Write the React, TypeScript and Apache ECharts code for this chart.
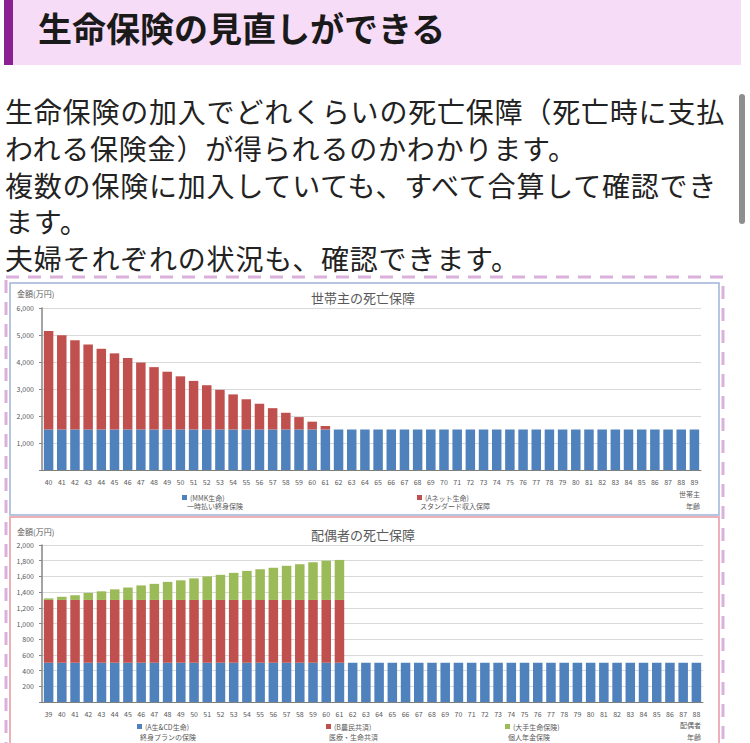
import React, { useEffect, useRef } from "react";
import * as echarts from "echarts";

const ages1 = ["40","41","42","43","44","45","46","47","48","49","50","51","52","53","54","55","56","57","58","59","60","61","62","63","64","65","66","67","68","69","70","71","72","73","74","75","76","77","78","79","80","81","82","83","84","85","86","87","88","89"];
const mmk = [1500,1500,1500,1500,1500,1500,1500,1500,1500,1500,1500,1500,1500,1500,1500,1500,1500,1500,1500,1500,1500,1500,1500,1500,1500,1500,1500,1500,1500,1500,1500,1500,1500,1500,1500,1500,1500,1500,1500,1500,1500,1500,1500,1500,1500,1500,1500,1500,1500,1500];
const aNet = [3650,3490,3310,3150,2990,2820,2650,2480,2310,2140,1970,1800,1640,1470,1300,1120,950,790,620,460,290,130,null,null,null,null,null,null,null,null,null,null,null,null,null,null,null,null,null,null,null,null,null,null,null,null,null,null,null,null];

const ages2 = ["39","40","41","42","43","44","45","46","47","48","49","50","51","52","53","54","55","56","57","58","59","60","61","62","63","64","65","66","67","68","69","70","71","72","73","74","75","76","77","78","79","80","81","82","83","84","85","86","87","88"];
const acd = [500,500,500,500,500,500,500,500,500,500,500,500,500,500,500,500,500,500,500,500,500,500,500,500,500,500,500,500,500,500,500,500,500,500,500,500,500,500,500,500,500,500,500,500,500,500,500,500,500,500];
const bNomin = [800,800,800,800,800,800,800,800,800,800,800,800,800,800,800,800,800,800,800,800,800,800,800,null,null,null,null,null,null,null,null,null,null,null,null,null,null,null,null,null,null,null,null,null,null,null,null,null,null,null];
const ote = [20,40,60,90,110,135,160,185,205,230,250,275,300,320,345,370,390,410,435,455,480,500,510,null,null,null,null,null,null,null,null,null,null,null,null,null,null,null,null,null,null,null,null,null,null,null,null,null,null,null];

const names1 = ["(MMK生命)", "(Aネット生命)"];
const descs1 = ["一時払い終身保険", "スタンダード収入保障"];
const names2 = ["(A生&CD生命)", "(B農民共済)", "(大手生命保険)"];
const descs2 = ["終身プランの保険", "医療・生命共済", "個人年金保険"];

const BLUE = "#4f81bd";
const RED = "#c0504d";
const GREEN = "#9bbb59";
const TXT = "#595959";
const FONT = "Noto Sans CJK JP";

const lines = [
  "生命保険の加入でどれくらいの死亡保障（死亡時に支払",
  "われる保険金）が得られるのかわかります。",
  "複数の保険に加入していても、すべて合算して確認でき",
  "ます。",
  "夫婦それぞれの状況も、確認できます。",
];

function fmt(v: number) {
  if (v === 0) return "";
  return v.toLocaleString("en-US");
}

function txt(text: string, x: number, y: number, size: number, align: string = "left") {
  return {
    type: "text",
    style: { text, x, y, fontSize: size, fill: TXT, fontFamily: FONT, textAlign: align, textVerticalAlign: "middle" },
  };
}

function Charts() {
  const ref = useRef<HTMLDivElement>(null);
  useEffect(() => {
    if (!ref.current) return;
    const chart = echarts.init(ref.current, undefined, { renderer: "svg" });
    const xAxisBase = (gi: number, data: string[]) => ({
      type: "category",
      gridIndex: gi,
      data,
      axisLine: { lineStyle: { color: "#7f7f7f", width: 1 } },
      axisTick: { show: false },
      axisLabel: { fontSize: 7, color: TXT, interval: 0, margin: 8, fontFamily: FONT },
    });
    const yAxisBase = (gi: number, max: number, interval: number) => ({
      type: "value",
      gridIndex: gi,
      min: 0,
      max,
      interval,
      axisLine: { show: true, lineStyle: { color: "#868686", width: 1.5 } },
      axisTick: { show: true, length: 3, lineStyle: { color: "#868686" } },
      splitLine: { lineStyle: { color: "#d9d9d9" } },
      axisLabel: { fontSize: 7, color: TXT, margin: 8, fontFamily: FONT, formatter: fmt },
    });
    const legendItem = (name: string, left: number, top: number) => ({
      data: [name],
      left,
      top,
      icon: "rect",
      itemWidth: 5,
      itemHeight: 5,
      itemGap: 2,
      selectedMode: false,
      textStyle: { fontSize: 7, color: TXT, fontFamily: FONT, padding: [0, 0, 0, -2] },
    });
    const bar = (name: string, xi: number, stack: string, data: (number | null)[], color: string) => ({
      type: "bar",
      name,
      xAxisIndex: xi,
      yAxisIndex: xi,
      stack,
      data,
      barCategoryGap: "28%",
      itemStyle: { color },
    });
    chart.setOption({
      animation: false,
      textStyle: { fontFamily: FONT },
      title: [
        { text: "世帯主の死亡保障", left: 311, top: 21, textStyle: { fontSize: 13, fontWeight: "normal", color: TXT, fontFamily: FONT }, padding: 0 },
        { text: "配偶者の死亡保障", left: 311, top: 258, textStyle: { fontSize: 13, fontWeight: "normal", color: TXT, fontFamily: FONT }, padding: 0 },
      ],
      grid: [
        { left: 42, top: 38, width: 659, height: 162 },
        { left: 42, top: 275, width: 661, height: 157 },
      ],
      xAxis: [xAxisBase(0, ages1), xAxisBase(1, ages2)],
      yAxis: [yAxisBase(0, 6000, 1000), yAxisBase(1, 2000, 200)],
      legend: [
        legendItem(names1[0], 177, 219),
        legendItem(names1[1], 412, 219),
        legendItem(names2[0], 132, 448),
        legendItem(names2[1], 321, 448),
        legendItem(names2[2], 500, 448),
      ],
      series: [
        bar(names1[0], 0, "s1", mmk, BLUE),
        bar(names1[1], 0, "s1", aNet, RED),
        bar(names2[0], 1, "s2", acd, BLUE),
        bar(names2[1], 1, "s2", bNomin, RED),
        bar(names2[2], 1, "s2", ote, GREEN),
      ],
      graphic: [
        { type: "rect", shape: { x: 6, y: 7, width: 717, height: 600 }, style: { fill: "none", stroke: "#dab0dc", lineWidth: 3, lineDash: [13, 9] } },
        { type: "rect", shape: { x: 10, y: 13, width: 709, height: 232 }, style: { fill: "none", stroke: "#9fb4d6", lineWidth: 1.5 } },
        { type: "rect", shape: { x: 10, y: 247, width: 709, height: 240 }, style: { fill: "none", stroke: "#eeb0b8", lineWidth: 2 } },
        txt("金額(万円)", 17, 23, 8),
        txt("金額(万円)", 17, 261, 8),
        txt(descs1[0], 187, 236, 7),
        txt(descs1[1], 420, 236, 7),
        txt("世帯主", 700, 224, 7, "right"),
        txt("年齢", 700, 236, 7, "right"),
        txt(descs2[0], 140, 467, 7),
        txt(descs2[1], 329, 467, 7),
        txt(descs2[2], 508, 467, 7),
        txt("配偶者", 701, 455, 7, "right"),
        txt("年齢", 701, 467, 7, "right"),
      ],
    });
    return () => chart.dispose();
  }, []);
  return <div ref={ref} style={{ position: "absolute", left: 0, top: 270, width: 750, height: 473 }} />;
}

export default function App() {
  return (
    <div style={{ position: "absolute", left: 0, top: 0, width: 750, height: 743, overflow: "hidden", background: "#fff", fontFamily: FONT }}>
      <div style={{ position: "absolute", left: 4, top: 0, width: 737, height: 65, background: "#f6dcf6" }} />
      <div style={{ position: "absolute", left: 4, top: 0, width: 9, height: 65, background: "#8b2090" }} />
      <div style={{ position: "absolute", left: 38, top: 7, height: 42, lineHeight: "42px", fontSize: 34, fontWeight: 700, color: "#1a1a1a", whiteSpace: "nowrap" }}>
        生命保険の見直しができる
      </div>
      <div style={{ position: "absolute", left: 5, top: 93, fontSize: 28, letterSpacing: "0.8px", lineHeight: "36.8px", color: "#222", whiteSpace: "nowrap" }}>
        {lines.map((l, i) => (
          <div key={i} style={{ height: 36.8 }}>{l}</div>
        ))}
      </div>
      <div style={{ position: "absolute", left: 739, top: 94, width: 6, height: 130, background: "#8e8e8e", borderRadius: 3 }} />
      <Charts />
    </div>
  );
}
